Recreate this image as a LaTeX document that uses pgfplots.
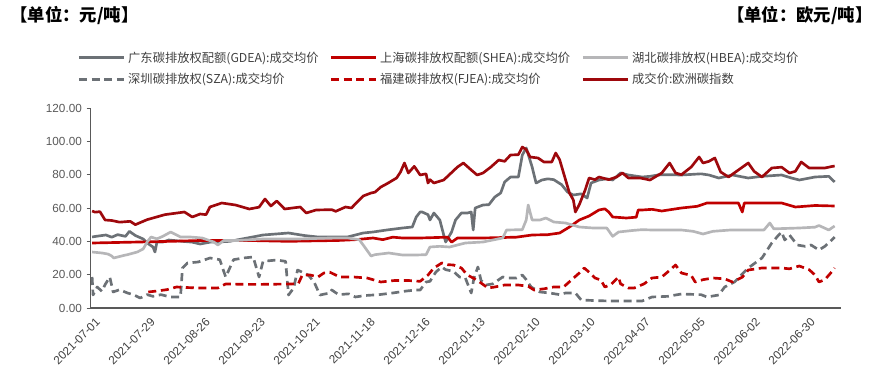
\documentclass[border=0pt]{standalone}
\usepackage{fontspec}
\setmainfont{Liberation Sans}
\newfontfamily\cjk{Noto Sans CJK SC}
\usepackage{pgfplots}
\pgfplotsset{compat=1.18}
\definecolor{gdea}{RGB}{108,113,118}
\definecolor{shea}{RGB}{192,0,0}
\definecolor{hbea}{RGB}{182,182,184}
\definecolor{eu}{RGB}{158,8,12}
\definecolor{axgray}{RGB}{89,89,89}
\definecolor{txtgray}{RGB}{64,64,64}
\newcommand{\legbox}[1]{\makebox[146pt][l]{#1}}
\begin{document}
\begin{tikzpicture}
\path[use as bounding box] (-67.9pt,-52.5pt) rectangle (592.1pt,231pt);
\begin{axis}[
  scale only axis, width=562.5pt, height=150pt,
  at={(0,0)}, anchor=south west,
  xmin=-0.8, xmax=381, ymin=0, ymax=120,
  axis lines*=left,
  axis line style={axgray, line width=0.8pt},
  /pgf/number format/assume math mode=true,
  ytick={0,20,...,120},
  yticklabel style={font=\fontsize{8.8pt}{10pt}\selectfont, text=axgray, /pgf/number format/.cd, fixed, fixed zerofill, precision=2},
  y tick style={axgray, line width=0.6pt},
  tick align=outside, major tick length=3pt,
  xtick={0,28,56,84,112,140,168,196,224,252,280,308,336,364},
  xticklabels={2021-07-01,2021-07-29,2021-08-26,2021-09-23,2021-10-21,2021-11-18,2021-12-16,2022-01-13,2022-02-10,2022-03-10,2022-04-07,2022-05-05,2022-06-02,2022-06-30},
  xticklabel style={rotate=45, anchor=north east, font=\fontsize{8.8pt}{10pt}\selectfont, text=txtgray, inner sep=1pt, yshift=-3pt},
  x tick style={draw=none},
  legend columns=3,
  legend cell align=left,
  legend style={at={(-0.023,1.31)}, anchor=north west, draw=none, fill=none,
    font=\cjk\fontsize{9.2pt}{10pt}\selectfont, text=txtgray,
    /tikz/every even column/.append style={column sep=3pt},
    row sep=3pt},
  legend image code/.code={\draw[#1] (0pt,0pt) -- (34pt,0pt);},
  every axis plot/.append style={line width=2pt, line join=round},
]
% GDEA
\addplot[gdea, no marks] coordinates {
(0,42.6)(2,43)(7,43.8)(10,42.5)(13,44)(17,43)(19,46)(22,43.5)(26,41.4)(28,39)(31,36.6)(32,33.6)(33,39.6)(36,39.6)(39,40.8)(46,40)(51,39.5)(55,38.4)(60,39.5)(64,39.6)(70,40)(79,42)(87,43.8)(100,45)(108,43.5)(115,42.6)(122,42.6)(130,42.6)(138,45)(143,45.6)(150,46.8)(158,48)(163,48.6)(165,54.6)(167,57.6)(168,57.6)(171,56)(172,52.8)(174,57)(177,52.8)(179,43.8)(180,39.6)(183,45.6)(185,52.8)(188,57)(191,57)(193,57.6)(194,46.8)(195,60)(199,61.8)(202,62)(205,66.6)(208,69)(210,75.6)(213,78.6)(217,78.6)(219,91.8)(221,96)(224,84.6)(226,75)(229,76.8)(232,77.5)(235,77)(239,74)(242,69.6)(245,67.8)(249,68.5)(252,66)(254,75)(258,76.8)(262,77.5)(265,76.8)(269,81)(273,79.8)(280,78.6)(284,79)(288,79.8)(292,80)(300,79.8)(310,80.5)(314,79.8)(319,78)(326,79.8)(334,78)(341,79)(351,79.8)(356,78)(360,76.8)(368,78.6)(375,79)(378,75.6)
};
\addlegendentry{\legbox{广东碳排放权配额(GDEA):成交均价}}
% SHEA
\addplot[shea, no marks] coordinates {
(0,39)(20,39.5)(40,40)(55,40.5)(80,40.5)(100,40)(109,40.2)(125,40.5)(134,41)(143,42)(148,41)(153,42.5)(158,42)(167,42)(181,42.5)(183,39.5)(186,42)(199,42)(216,42.5)(224,43.8)(232,44)(238,45)(243,48.6)(248,52.8)(253,55.2)(258,58.8)(261,59.5)(263,57.6)(265,54.6)(272,54)(277,54.5)(278,58.8)(280,58.8)(285,59.2)(290,58.2)(300,60)(308,61)(313,63)(329,63)(331,57.6)(332,63)(351,63)(358,60.6)(368,61.5)(378,61.2)
};
\addlegendentry{\legbox{上海碳排放权配额(SHEA):成交均价}}
% HBEA
\addplot[hbea, no marks] coordinates {
(0,33.6)(5,33)(8,32.4)(10,31.2)(11,30)(16,31.5)(18,32)(23,33.6)(26,35.4)(28,39.6)(30,42.6)(33,41.5)(36,43)(40,45.6)(45,42.6)(50,42.6)(56,42)(62,39.6)(64,37.8)(67,40.5)(74,40.5)(87,41.4)(105,41.4)(121,42)(130,42)(136,41)(138,37.8)(142,31.2)(144,32)(151,33)(158,31.8)(165,31.8)(170,32)(172,36.6)(177,37)(182,36.6)(190,39)(199,39.6)(209,42)(211,46.8)(219,47)(221,52.8)(222,61.8)(224,52.8)(228,52.8)(231,54)(235,51.6)(241,51)(248,48.6)(255,48)(262,48)(265,43)(268,45.6)(275,46.5)(280,47)(285,46.8)(300,46.8)(306,46)(311,44.4)(316,46)(325,46.8)(342,46.8)(345,51)(347,47.5)(360,48)(368,48.5)(370,49.5)(375,46.8)(378,49.2)
};
\addlegendentry{\legbox{湖北碳排放权(HBEA):成交均价}}
% SZA
\addplot[gdea, no marks, dash pattern=on 6pt off 3.5pt] coordinates {
(0,18.6)(0.5,7.8)(2.6,12.6)(5,10)(6.6,14)(9,18.6)(10.7,9.6)(14,11)(18,9)(21,8)(24.5,6)(28,8)(31,7)(35,8)(40,6.6)(45,6.6)(46,24)(48.5,27)(54,27.6)(60,30)(65,29)(68,18.6)(72,29)(77,30)(82,30.6)(85,18.6)(87,28)(94,28.8)(98.5,28)(100,7.8)(102.6,12)(104.6,22.8)(110,19.8)(113,15.6)(116,7.8)(121,9)(122,10.8)(125.5,8)(130.6,8.5)(134,6.6)(139,7.5)(146,8)(153,9)(160,10.2)(165,10.8)(167,10.8)(170,15.6)(172,16)(175,21.6)(178,24.6)(180,23)(184,22)(187,18.6)(190,18)(193,9)(194.4,18)(196.4,24.6)(198,16.5)(200.5,13.8)(204,14.5)(209,18.6)(212,18)(216,18)(219,19.8)(221,17)(223.5,12.6)(228,9.6)(233,9)(238,8)(241,9)(246,9)(249,4.8)(255,4.5)(263,4.2)(272,4.2)(280,4.2)(285,6.6)(293,7)(300,8.4)(310,8)(313,6.6)(319,7.8)(322,12.6)(327,15.6)(334,24)(341,30)(346,39)(349.5,43.8)(351,45.6)(352.6,40.8)(355,43.8)(359,37.8)(363,37)(366,37.8)(370,34.8)(373,37)(376.5,40.8)(378,42.6)
};
\addlegendentry{\legbox{深圳碳排放权(SZA):成交均价}}
% FJEA
\addplot[shea, no marks, dash pattern=on 6pt off 3.5pt] coordinates {
(28.6,9.6)(33,10.2)(38,11)(43,12.6)(46,12.4)(54,12)(64,12)(68,14.4)(79,14.2)(87,14.2)(101,14.4)(105,14.6)(107,19.8)(111,19.8)(115,18.6)(118,21)(121,21.5)(126,18.6)(133,18.6)(140,18)(147,15.6)(154,16.5)(161,16.5)(167,16)(171,19.8)(174,24)(178,27)(181,26)(184,25.8)(188,24)(191,19.8)(194,18)(198,15)(201.5,12)(205,12.6)(210,13.8)(217,13.8)(222,13)(225,10.8)(230,11.5)(235,12.6)(240,12.6)(244,16.8)(248,21)(250.5,24)(253,21.5)(256,18)(259,16.8)(261,12.6)(264,14)(268,18.6)(269,14.5)(273,12)(276,12)(281,14.5)(285,18)(290,18.6)(293,21.6)(297,25.8)(300,21)(305,19.5)(307,15.6)(311,17)(316,18)(322,17.5)(326,15.6)(331,18.5)(334,22.8)(341,24)(347,24)(351,24)(355,23.5)(360,25.2)(365,23)(368,19.8)(370,15.6)(373,17)(376,21)(378,24)
};
\addlegendentry{\legbox{福建碳排放权(FJEA):成交均价}}
% EU
\addplot[eu, no marks] coordinates {
(0,58.2)(1.5,57.5)(4,57.8)(6.6,52.8)(10,52.5)(14,51.5)(19.4,52)(22,50)(28,53)(37,56)(47,57.6)(51,54.6)(55,56.4)(58,56)(60,60.6)(66,63)(73,61.8)(80,59.4)(85,60.5)(88,65.4)(91,61.2)(94,64.2)(98,59.4)(106,60.6)(109,57)(114,58.8)(122,59)(124,58)(129,60.6)(132,60)(136,64.8)(138,67.2)(142,69)(144,69.5)(147,72.6)(150,74.5)(155,78)(157,81.6)(159,87)(161,81)(164,85)(167,79.8)(170,80.5)(171,75)(172,77)(174,75)(179,76.8)(186,84.6)(189,87)(193,82.8)(196,79.8)(199,81)(203,84.6)(207,88.8)(210,88)(213,91.8)(217,92)(219,96.6)(221,95)(223,90.6)(227,90)(230,87.6)(234,87.6)(236,93)(238,89)(240,81)(243,69)(245,64.8)(246,57.6)(248,62)(251,70.8)(253,78)(256,77)(258,78.6)(263,77)(267,78.6)(270,81)(273,78)(279,78)(284,76.8)(290,81)(294,87)(297,81)(300,80)(305,84.6)(309,90.6)(311,87)(314,88)(317,90)(320,81.6)(324,78.6)(329,82.8)(334,87)(337,82)(341,78.6)(346,84)(351,84.5)(355,81)(358,82)(361,87.6)(365,84)(368,84)(373,84)(377,85)(378,85.2)
};
\addlegendentry{\legbox{成交价:欧洲碳指数}}
\end{axis}
\node[font=\cjk\bfseries\fontsize{13pt}{14pt}\selectfont, text=black] at (-12pt,219pt) {【单位：元/吨】};
\node[font=\cjk\bfseries\fontsize{13pt}{14pt}\selectfont, text=black] at (532pt,219pt) {【单位：欧元/吨】};
\end{tikzpicture}
\end{document}
